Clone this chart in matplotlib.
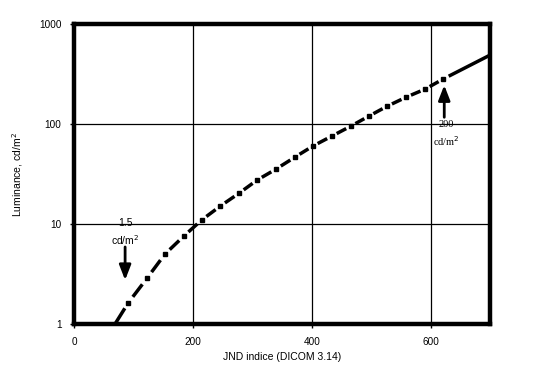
import matplotlib
matplotlib.use("Agg")
import matplotlib.pyplot as plt
import numpy as np

plt.rcParams['font.family'] = ['Liberation Sans', 'DejaVu Sans']

# ---------------------------
# DATA
# ---------------------------

jnd = [69, 91, 123, 153, 185, 215, 246, 278, 308, 340, 372, 402,
       434, 466, 496, 527, 559, 591, 621, 700]
luminance = [1.0, 1.62, 2.88, 5.0, 7.6, 11.0, 15.1, 20.4, 27.5, 35.5, 46.8, 60.3,
             75.9, 95.5, 120, 151, 186, 224, 282, 490]

x_ticks = [0, 200, 400, 600]
y_ticks = [1, 10, 100, 1000]
y_tick_labels = ["1", "10", "100", "1000"]

# ---------------------------
# FIGURE
# ---------------------------

fig = plt.figure(figsize=(5.37, 3.83), dpi=100)
ax = fig.add_axes([0.1378, 0.154, 0.7747, 0.783])

ax.set_yscale("log")
ax.set_xlim(0, 700)
ax.set_ylim(1, 1000)

# curve: one dash between each pair of square markers
n = len(jnd)
for i in range(n - 1):
    t0, t1 = 0.25, 0.75
    if i == 0:
        t0 = 0.0
    if i == n - 2:
        t0, t1 = 0.12, 1.0
    lx = np.log10([luminance[i], luminance[i + 1]])
    xs = [jnd[i] + t * (jnd[i + 1] - jnd[i]) for t in (t0, t1)]
    ys = [10 ** (lx[0] + t * (lx[1] - lx[0])) for t in (t0, t1)]
    ax.plot(xs, ys, color="black", lw=2.5, solid_capstyle="butt", zorder=3)
ax.plot(jnd[1:-1], luminance[1:-1], "s", color="black", ms=3.4, zorder=4)

ax.set_xticks(x_ticks)
ax.set_yticks(y_ticks)
ax.set_yticklabels(y_tick_labels)
ax.minorticks_off()
ax.tick_params(direction="out", length=3, width=1, labelsize=7.2, pad=6,
               colors="black")

ax.grid(True, color="black", lw=0.9)
ax.set_axisbelow(True)
for s in ax.spines.values():
    s.set_linewidth(3.2)
    s.set_zorder(5)

ax.set_xlabel("JND indice (DICOM 3.14)", fontsize=7.5, labelpad=4)
ax.set_ylabel("Luminance, cd/m$^2$", fontsize=7.5, labelpad=10)

# annotations
arrow = dict(arrowstyle="-|>,head_width=0.35,head_length=0.9",
             color="black", lw=2.0, shrinkA=0, shrinkB=0)

ax.annotate("", xy=(86, 2.75), xytext=(86, 5.9), arrowprops=arrow)
ax.text(86, 10.2, "1.5", fontsize=7.5, ha="center", va="center")
ax.text(86, 6.9, "cd/m$^2$", fontsize=7.5, ha="center", va="center")

ax.annotate("", xy=(623, 245), xytext=(623, 117), arrowprops=arrow)
ax.text(627, 98, "200", fontsize=7.5, ha="center", va="center",
        family="Liberation Serif")
ax.text(627, 68, "cd/m$^2$", fontsize=7.5, ha="center", va="center",
        family="Liberation Serif")

fig.savefig("out.png", dpi=100, facecolor="white")
